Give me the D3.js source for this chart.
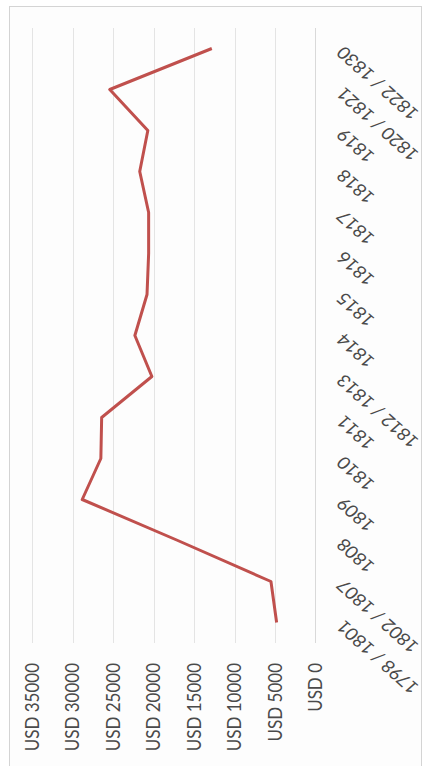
<!DOCTYPE html>
<html>
<head>
<meta charset="utf-8">
<script src="https://cdn.jsdelivr.net/npm/d3@7"></script>
<style>
    body { margin: 0; background: #fff; }
    svg { display: block; }
    .tick-label { font-family: Lato, "Open Sans", sans-serif; font-size: 17px; fill: #4a4a4a; }
</style>
</head>
<body>
<script>
var categories = ["1798 / 1801", "1802 / 1807", "1808", "1809", "1810", "1811", "1812 / 1813",
    "1814", "1815", "1816", "1817", "1818", "1819", "1820 / 1821", "1822 / 1830"];
var values = [4800, 5500, 17000, 28800, 26500, 26400, 20200, 22300, 20800, 20600, 20600, 21700, 20700, 25400, 12800];
var valueTicks = [0, 5000, 10000, 15000, 20000, 25000, 30000, 35000];
var tickLabels = ["USD 0", "USD 5000", "USD 10000", "USD 15000", "USD 20000", "USD 25000", "USD 30000", "USD 35000"];

var width = 424, height = 766;
var svg = d3.select("body").append("svg")
    .attr("width", width)
    .attr("height", height);

function draw() {
    "use strict";
    // chart is drawn turned a quarter: values run right to left, categories bottom to top
    var plotTop = 28, plotBottom = 643;
    var x = d3.scaleLinear().domain([0, 35000]).range([315.5, 32]);
    var y = d3.scaleBand().domain(categories).range([plotBottom, plotTop]);
    var yc = function (c) { return y(c) + y.bandwidth() / 2; };
    var stretch = 1.12;

    // outer frame
    svg.append("rect")
        .attr("x", 9.5).attr("y", 6.5)
        .attr("width", 412).attr("height", 770)
        .attr("fill", "#fdfdfd")
        .attr("stroke", "#d4d4d4")
        .attr("stroke-width", 1);

    svg.append("g").selectAll("line")
        .data(valueTicks.slice(1))
        .enter().append("line")
        .attr("x1", function (d) { return Math.round(x(d)) + 0.5; })
        .attr("x2", function (d) { return Math.round(x(d)) + 0.5; })
        .attr("y1", plotTop)
        .attr("y2", plotBottom)
        .attr("stroke", "#e4e4e4")
        .attr("stroke-width", 1);

    // category axis line at zero
    svg.append("line")
        .attr("x1", x(0)).attr("x2", x(0))
        .attr("y1", plotTop).attr("y2", plotBottom)
        .attr("stroke", "#d9d9d9")
        .attr("stroke-width", 1);

    svg.append("g").selectAll("text")
        .data(valueTicks)
        .enter().append("text")
        .attr("class", "tick-label")
        .attr("text-anchor", "end")
        .attr("dy", "0.35em")
        .attr("transform", function (d) {
            return "translate(" + x(d) + ",663) scale(" + stretch + ",1) rotate(-90)";
        })
        .text(function (d, i) { return tickLabels[i]; });

    svg.append("g").selectAll("text")
        .data(categories)
        .enter().append("text")
        .attr("class", "tick-label")
        .attr("text-anchor", "end")
        .attr("dy", "0.35em")
        .attr("transform", function (d) {
            return "translate(340," + (yc(d) + 1) + ") scale(" + stretch + ",1) rotate(-135)";
        })
        .text(function (d) { return d; });

    var line = d3.line()
        .x(function (d) { return x(d); })
        .y(function (d, i) { return yc(categories[i]); });

    svg.append("path")
        .datum(values)
        .attr("d", line)
        .attr("fill", "none")
        .attr("stroke", "#c0504d")
        .attr("stroke-width", 3)
        .attr("stroke-linejoin", "round");
}

draw();
</script>
</body>
</html>
